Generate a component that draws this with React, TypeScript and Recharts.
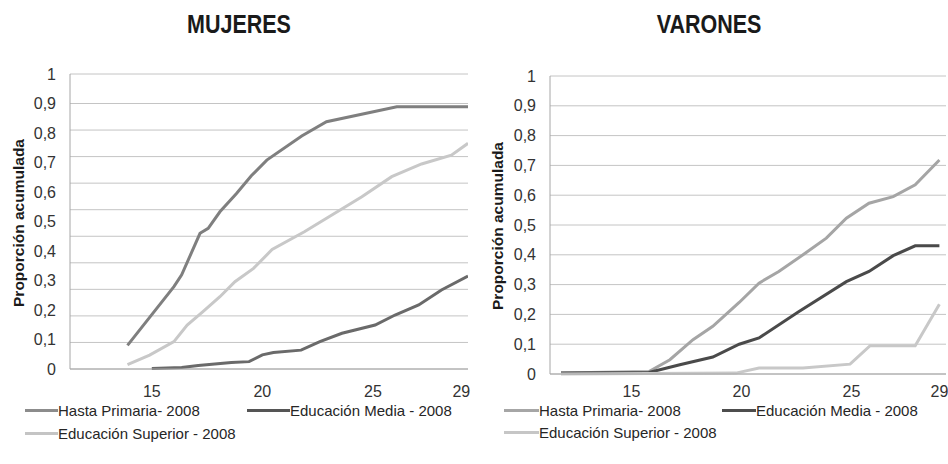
import React from 'react';
import { LineChart, Line, XAxis, YAxis, CartesianGrid } from 'recharts';

// ---------- DATA ----------
const X_TICKS = [15, 20, 25, 29];
const Y_TICKS = [0, 0.1, 0.2, 0.3, 0.4, 0.5, 0.6, 0.7, 0.8, 0.9, 1];
const MUJ_GRID_VALUES = [0, 0.09, 0.18, 0.27, 0.36, 0.45, 0.54, 0.63, 0.72, 0.81, 0.9, 1];

const SERIES_NAMES = ['Hasta Primaria- 2008', 'Educación Media - 2008', 'Educación Superior - 2008'];
const CHART_TITLES = ['MUJERES', 'VARONES'];
const Y_LABEL = 'Proporción acumulada';

// Mujeres
const MUJ_PRIMARIA_AGE = [13.9, 16.0, 16.35, 17.18, 17.55, 18.08, 18.83, 19.5, 20.2, 21.78, 22.9, 26.08, 29.3];
const MUJ_PRIMARIA_VAL = [0.08, 0.279, 0.319, 0.46, 0.477, 0.533, 0.595, 0.655, 0.708, 0.79, 0.838, 0.889, 0.889];
const MUJ_MEDIA_AGE = [15.0, 16.35, 17.1, 18.6, 19.4, 20.0, 20.5, 21.75, 22.6, 23.6, 25.1, 26.0, 27.07, 28.1, 29.3];
const MUJ_MEDIA_VAL = [0.002, 0.005, 0.012, 0.022, 0.025, 0.048, 0.056, 0.064, 0.093, 0.121, 0.149, 0.183, 0.217, 0.268, 0.315];
const MUJ_SUPERIOR_AGE = [13.9, 14.9, 16.0, 16.6, 17.3, 18.08, 18.76, 19.6, 20.44, 21.9, 24.5, 25.85, 27.2, 28.55, 29.3];
const MUJ_SUPERIOR_VAL = [0.015, 0.047, 0.093, 0.149, 0.194, 0.245, 0.296, 0.341, 0.405, 0.465, 0.584, 0.652, 0.695, 0.725, 0.765];

// Varones
const VAR_PRIMARIA_AGE = [11.8, 15.8, 16.75, 17.8, 18.7, 19.9, 20.8, 21.7, 22.8, 23.86, 24.77, 25.8, 26.9, 27.9, 29.0];
const VAR_PRIMARIA_VAL = [0.003, 0.008, 0.048, 0.115, 0.16, 0.24, 0.305, 0.344, 0.4, 0.456, 0.523, 0.573, 0.595, 0.635, 0.718];
const VAR_MEDIA_AGE = [11.8, 15.8, 17.2, 18.7, 19.9, 20.8, 22.6, 24.77, 25.8, 26.9, 27.9, 29.0];
const VAR_MEDIA_VAL = [0.003, 0.005, 0.031, 0.057, 0.1, 0.121, 0.209, 0.31, 0.344, 0.397, 0.43, 0.43];
const VAR_SUPERIOR_AGE = [11.8, 19.75, 20.8, 22.8, 24.94, 25.85, 27.9, 29.0];
const VAR_SUPERIOR_VAL = [0.0, 0.003, 0.02, 0.02, 0.033, 0.095, 0.095, 0.234];

const zip = (ages: number[], vals: number[]) => ages.map((a, i) => ({ age: a, v: vals[i] }));

const MUJ_SERIES = [
  { name: SERIES_NAMES[0], data: zip(MUJ_PRIMARIA_AGE, MUJ_PRIMARIA_VAL), color: '#7f7f7f', legend: '#8c8c8c' },
  { name: SERIES_NAMES[1], data: zip(MUJ_MEDIA_AGE, MUJ_MEDIA_VAL), color: '#6a6a6a', legend: '#555555' },
  { name: SERIES_NAMES[2], data: zip(MUJ_SUPERIOR_AGE, MUJ_SUPERIOR_VAL), color: '#c8c8c8', legend: '#c4c4c4' },
];
const VAR_SERIES = [
  { name: SERIES_NAMES[0], data: zip(VAR_PRIMARIA_AGE, VAR_PRIMARIA_VAL), color: '#a5a5a5', legend: '#a6a6a6' },
  { name: SERIES_NAMES[1], data: zip(VAR_MEDIA_AGE, VAR_MEDIA_VAL), color: '#4a4a4a', legend: '#4d4d4d' },
  { name: SERIES_NAMES[2], data: zip(VAR_SUPERIOR_AGE, VAR_SUPERIOR_VAL), color: '#c8c8c8', legend: '#c6c6c6' },
];

// ---------- STYLE ----------
const FONT = '"Liberation Sans", Arial, sans-serif';
const fmt = (v: number) => (Number.isInteger(v) ? String(v) : v.toFixed(1).replace('.', ','));
const tickStyle = { fontSize: 16, fill: '#333333', fontFamily: FONT };

type Series = { name: string; data: { age: number; v: number }[]; color: string; legend: string };

function Panel(props: {
  left: number;
  series: Series[];
  margin: { top: number; right: number; bottom: number; left: number };
  yWidth: number;
  xTickMargin: number;
  gridValues?: number[];
  title: string;
  titleX: number;
  yLabelX: number;
  yLabelY: number;
  legendPos: { x: number; y: number; w: number }[];
}) {
  const { left, series, margin, yWidth, xTickMargin, gridValues, title, titleX, yLabelX, yLabelY, legendPos } = props;
  return (
    <div style={{ position: 'absolute', left, top: 0, width: 474, height: 464 }}>
      <LineChart width={474} height={464} margin={margin}>
        <CartesianGrid
          vertical={false}
          stroke="#c4c4c4"
          {...(gridValues ? { horizontalValues: gridValues } : {})}
        />
        <XAxis
          type="number"
          dataKey="age"
          domain={[11.3, 29.3]}
          ticks={X_TICKS}
          interval={0}
          allowDataOverflow
          tickLine={false}
          axisLine={{ stroke: '#a6a6a6' }}
          tickMargin={xTickMargin}
          height={30}
          tick={tickStyle}
        />
        <YAxis
          type="number"
          domain={[0, 1]}
          ticks={Y_TICKS}
          interval={0}
          width={yWidth}
          tickFormatter={fmt}
          tickLine={false}
          axisLine={{ stroke: '#a6a6a6' }}
          tickMargin={8}
          tick={tickStyle}
        />
        {series.map((s) => (
          <Line
            key={s.name}
            data={s.data}
            dataKey="v"
            name={s.name}
            type="linear"
            stroke={s.color}
            strokeWidth={3}
            dot={false}
            activeDot={false}
            isAnimationActive={false}
          />
        ))}
      </LineChart>
      <div
        style={{
          position: 'absolute',
          left: titleX - 100,
          top: 9,
          width: 200,
          textAlign: 'center',
          fontFamily: FONT,
          fontWeight: 'bold',
          fontSize: 25,
          lineHeight: '30px',
          color: '#1a1a1a',
          transform: 'scaleX(0.86)',
        }}
      >
        {title}
      </div>
      <div
        style={{
          position: 'absolute',
          left: yLabelX - 110,
          top: yLabelY - 10,
          width: 220,
          height: 20,
          lineHeight: '20px',
          textAlign: 'center',
          transform: 'rotate(-90deg)',
          fontFamily: FONT,
          fontWeight: 'bold',
          fontSize: 15.5,
          color: '#1a1a1a',
        }}
      >
        {Y_LABEL}
      </div>
      {series.map((s, i) => (
        <div
          key={s.name}
          style={{
            position: 'absolute',
            left: legendPos[i].x,
            top: legendPos[i].y - 10,
            height: 20,
            display: 'flex',
            alignItems: 'center',
            fontFamily: FONT,
            fontSize: 15,
            color: '#262626',
            whiteSpace: 'nowrap',
          }}
        >
          <span style={{ display: 'inline-block', width: legendPos[i].w, height: 3, background: s.legend }} />
          <span>{s.name}</span>
        </div>
      ))}
    </div>
  );
}

export default function App() {
  return (
    <div style={{ position: 'absolute', left: 0, top: 0, width: 948, height: 464, background: '#ffffff', overflow: 'hidden' }}>
      <Panel
        left={0}
        series={MUJ_SERIES}
        margin={{ top: 74, right: 6, bottom: 65, left: 0 }}
        yWidth={70}
        xTickMargin={11}
        gridValues={MUJ_GRID_VALUES}
        title={CHART_TITLES[0]}
        titleX={239}
        yLabelX={19}
        yLabelY={223}
        legendPos={[
          { x: 25, y: 410, w: 33 },
          { x: 247, y: 410, w: 43 },
          { x: 25, y: 433, w: 33 },
        ]}
      />
      <Panel
        left={474}
        series={VAR_SERIES}
        margin={{ top: 76, right: 2, bottom: 60, left: 0 }}
        yWidth={76}
        xTickMargin={6}
        title={CHART_TITLES[1]}
        titleX={235}
        yLabelX={24}
        yLabelY={226}
        legendPos={[
          { x: 30, y: 410, w: 35 },
          { x: 248, y: 410, w: 34 },
          { x: 30, y: 432, w: 35 },
        ]}
      />
    </div>
  );
}
